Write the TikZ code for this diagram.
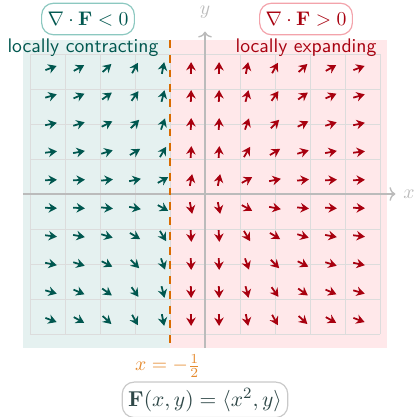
\documentclass[tikz,border=0pt]{standalone}
\usepackage{amsmath,amssymb}
\usetikzlibrary{arrows.meta}
\definecolor{tealdk}{HTML}{00574F}
\definecolor{reddk}{HTML}{A8000F}
\definecolor{tealbg}{HTML}{E5F1F0}
\definecolor{pinkbg}{HTML}{FFE8EA}
\definecolor{tealbd}{HTML}{8CC8C0}
\definecolor{redbd}{HTML}{F3A3AB}
\definecolor{gridc}{HTML}{DCDCDC}
\definecolor{axisc}{HTML}{BBBBBB}
\definecolor{orangedk}{HTML}{D96B00}
\definecolor{orangelt}{HTML}{E58A2E}
\definecolor{slate}{HTML}{2E4747}
\tikzset{
  fieldarrow/.style={line width=0.9pt,-{Stealth[length=4.2pt,width=4.8pt]}},
  axisline/.style={axisc,line width=0.7pt,-{To[length=3pt,width=7pt]}},
  tag/.style={draw,rounded corners=6pt,fill=white,line width=0.6pt,inner sep=3pt,minimum height=16pt},
  regionlabel/.style={font=\sffamily}
}
\begin{document}
\begin{tikzpicture}[x=1.25cm,y=1.25cm]
\useasboundingbox (-2.9286,-3.1857) rectangle (3.0286,2.7714);
\fill[tealbg] (-2.6,-2.2) rectangle (-0.5,2.2);
\fill[pinkbg] (-0.5,-2.2) rectangle (2.6,2.2);
\draw[gridc,line width=0.4pt,step=0.5] (-2.5,-2) grid (2.5,2);
\coordinate (xs) at (-2.6,0);
\coordinate (xe) at (2.72,0);
\coordinate (ys) at (0,-2.2);
\coordinate (ye) at (0,2.32);
\draw[axisline] (xs) -- (xe);
\draw[axisline] (ys) -- (ye);
\node[axisc,anchor=west,inner sep=1pt] (xl) at (2.8,0) {$x$};
\node[axisc,inner sep=1pt] (yl) at (0,2.6) {$y$};
\coordinate (dtop) at (-0.5,2.2);
\coordinate (dbot) at (-0.5,-2.2);
\draw[orangedk,line width=1.3pt,dash pattern=on 4pt off 3.5pt] (dtop) -- (dbot);
\foreach \i in {0,...,11}{
  \foreach \j in {0,...,9}{
    \pgfmathsetmacro\xx{-2.2+0.4*\i}
    \pgfmathsetmacro\yy{-1.8+0.4*\j}
    \pgfmathsetmacro\uu{\xx*\xx}
    \pgfmathsetmacro\nn{sqrt(\uu*\uu+\yy*\yy)}
    \pgfmathsetmacro\dx{0.085*\uu/\nn}
    \pgfmathsetmacro\dy{0.085*\yy/\nn}
    \ifnum\i<5 \def\fc{tealdk}\else\def\fc{reddk}\fi
    \draw[fieldarrow,\fc] (\xx-\dx,\yy-\dy) -- (\xx+\dx,\yy+\dy);
  }
}
\node[tag,draw=tealbd,text=tealdk] (neg) at (-1.671,2.5) {$\nabla\cdot\mathbf{F}<0$};
\node[tag,draw=redbd,text=reddk] (pos) at (1.443,2.5) {$\nabla\cdot\mathbf{F}>0$};
\node[regionlabel,text=tealdk] (lc) at (-1.743,2.09) {locally contracting};
\node[regionlabel,text=reddk] (le) at (1.443,2.09) {locally expanding};
\node[text=orangelt,inner sep=1pt] (xeq) at (-0.53,-2.457) {$x=-\tfrac{1}{2}$};
\node[tag,draw=axisc!80,text=slate,font=\fontsize{11}{13}\selectfont,minimum height=18pt] (eq) at (0,-2.94) {$\mathbf{F}(x,y)=\langle x^2,y\rangle$};
\end{tikzpicture}
\end{document}
